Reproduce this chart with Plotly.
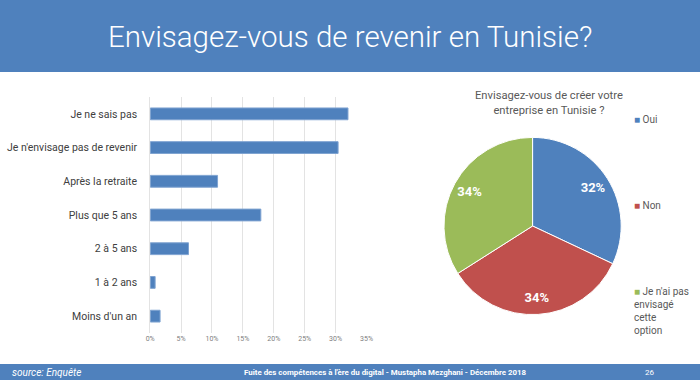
import plotly.graph_objects as go

categories = ["Je ne sais pas", "Je n'envisage pas de revenir", "Après la retraite",
              "Plus que 5 ans", "2 à 5 ans", "1 à 2 ans", "Moins d'un an"]
values = [0.32, 0.304, 0.109, 0.179, 0.062, 0.008, 0.016]
tick_vals = [0, 0.05, 0.10, 0.15, 0.20, 0.25, 0.30, 0.35]
tick_text = ["0%", "5%", "10%", "15%", "20%", "25%", "30%", "35%"]

pie_labels = ["Oui", "Non", "Je n'ai pas envisagé cette option"]
pie_values = [32, 34, 34]
pie_text = ["32%", "34%", "34%"]
pie_colors = ["#4F81BD", "#C0504D", "#9BBB59"]

BLUE = "#4F81BD"
FONT = "Roboto"
PIE_DOMAIN = dict(x=[446/700, 626/700], y=[1-316/380, 1-136/380])

fig = go.Figure()
fig.add_trace(go.Bar(
    y=categories, x=values, orientation="h",
    marker=dict(color=BLUE, line=dict(color="#7FA3D1", width=1)),
    showlegend=False, xaxis="x", yaxis="y",
))
# filled pie
fig.add_trace(go.Pie(
    labels=pie_labels, values=pie_values, textinfo="none",
    sort=False, direction="clockwise", rotation=0,
    marker=dict(colors=pie_colors, line=dict(color="white", width=1)),
    domain=PIE_DOMAIN, showlegend=False,
))
# transparent ring overlay, used only to place the percentage labels
fig.add_trace(go.Pie(
    labels=pie_labels, values=pie_values, text=pie_text, textinfo="text",
    sort=False, direction="clockwise", rotation=0, hole=0.62,
    marker=dict(colors=["rgba(0,0,0,0)"] * 3, line=dict(width=0)),
    textposition="inside", insidetextorientation="horizontal",
    textfont=dict(family=FONT, size=13, color="white", weight="bold"),
    domain=PIE_DOMAIN, showlegend=False, hoverinfo="skip",
))

fig.update_layout(
    width=700, height=380, margin=dict(l=0, r=0, t=0, b=0),
    paper_bgcolor="white", plot_bgcolor="white",
    font=dict(family=FONT, color="#404040"),
    bargap=0.65,
    xaxis=dict(domain=[147.5/700, 367.3/700], range=[0, 0.35], tickvals=tick_vals,
               ticktext=tick_text, showgrid=True, gridcolor="#E3E3E3", gridwidth=1,
               zeroline=False, showline=False, ticks="",
               tickfont=dict(size=7, color="#808080"), fixedrange=True),
    yaxis=dict(domain=[1-333/380, 1-97/380], categoryorder="array",
               categoryarray=categories[::-1], showgrid=False, zeroline=False,
               showline=True, linecolor="#E3E3E3", ticks="", ticklabelstandoff=10,
               tickfont=dict(size=10.5, color="#404040")),
    shapes=[
        dict(type="rect", xref="paper", yref="paper", x0=-0.02, x1=1.02, y0=1-72/380, y1=1.05,
             fillcolor=BLUE, line=dict(width=0), layer="below"),
        dict(type="rect", xref="paper", yref="paper", x0=-0.02, x1=1.02, y0=-0.05, y1=16/380,
             fillcolor=BLUE, line=dict(width=0), layer="below"),
    ],
)

ann = []
ann.append(dict(text="Envisagez-vous de revenir en Tunisie?", x=350/700, y=1-37/380,
                xref="paper", yref="paper", showarrow=False, yanchor="middle",
                xanchor="center",
                font=dict(family=FONT, size=29.5, color="white", weight=300)))
ann.append(dict(text="Envisagez-vous de créer votre<br>entreprise en Tunisie ?",
                x=553/700, y=1-103/380, xref="paper", yref="paper", showarrow=False,
                yanchor="middle", xanchor="center",
                font=dict(family=FONT, size=11.2, color="#595959")))
leg_y = [119, 205, 291]
leg_txt = ["Oui", "Non", "Je n'ai pas<br>envisagé<br>cette<br>option"]
for c, t, yy in zip(pie_colors, leg_txt, leg_y):
    ann.append(dict(text=f"<span style='color:{c}'>■</span> " + t, x=637/700,
                    y=1-(yy-7)/380, xref="paper", yref="paper", showarrow=False,
                    xanchor="left", yanchor="top", align="left",
                    font=dict(family=FONT, size=10, color="#595959")))
ann.append(dict(text="<i>source: Enquête</i>", x=5/700, y=8/380, xref="paper", yref="paper",
                showarrow=False, xanchor="left", yanchor="middle",
                font=dict(family=FONT, size=10, color="white")))
ann.append(dict(text="<b>Fuite des compétences à l'ère du digital - Mustapha Mezghani - Décembre 2018</b>",
                x=387/700, y=8/380, xref="paper", yref="paper", showarrow=False,
                yanchor="middle", xanchor="center",
                font=dict(family=FONT, size=7.9, color="white")))
ann.append(dict(text="26", x=655/700, y=8/380, xref="paper", yref="paper",
                showarrow=False, yanchor="middle", xanchor="center",
                font=dict(family=FONT, size=8, color="white")))
fig.update_layout(annotations=ann)

post = ("document.body.style.margin='0';document.body.style.overflow='hidden';"
        "var d=document.getElementById('{plot_id}');d.style.position='fixed';"
        "d.style.top='0px';d.style.left='0px';")
fig.write_html("out.html", config={"displayModeBar": False}, post_script=post)
